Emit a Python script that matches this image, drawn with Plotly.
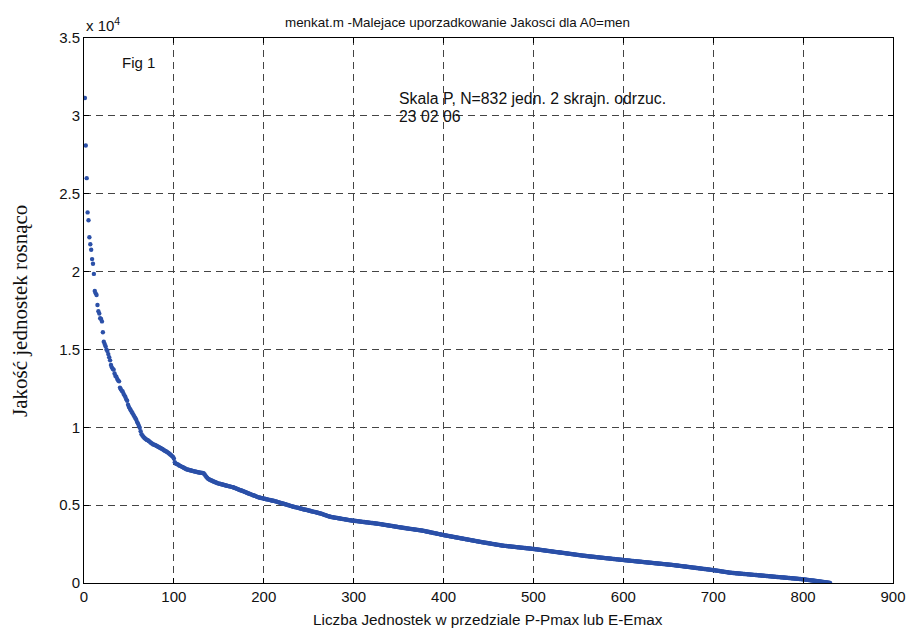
import plotly.graph_objects as go

# Quality values sorted descending (raw units), one per ranked unit
quality = [
    31150, 28100, 26000, 23800, 23300, 22200, 21750, 21400, 20800, 20500,
    19850, 18750, 18600, 18500, 17850, 17450, 17300, 17000, 16950, 16800,
    16100, 15500, 15350, 15200, 15000, 14900, 14700, 14500, 14300, 14000,
    13850, 13750, 13700, 13450, 13300, 13250, 13100, 13000, 12950, 12550,
    12450, 12350, 12300, 12150, 12050, 11950, 11800, 11700, 11450, 11300,
    11200, 11100, 11000, 10900, 10800, 10700, 10600, 10500, 10350, 10250,
    10100, 9970, 9750, 9550, 9470, 9400, 9330, 9280, 9230, 9190,
    9170, 9120, 9080, 9030, 8980, 8940, 8900, 8880, 8860, 8830,
    8800, 8770, 8730, 8700, 8670, 8640, 8610, 8570, 8530, 8490,
    8460, 8430, 8390, 8350, 8300, 8250, 8200, 8150, 8100, 8000,
    7750, 7680, 7650, 7620, 7590, 7550, 7520, 7490, 7460, 7430,
    7400, 7370, 7340, 7300, 7290, 7270, 7260, 7240, 7230, 7210,
    7200, 7180, 7170, 7150, 7140, 7120, 7110, 7100, 7090, 7080,
    7070, 7060, 7050, 6980, 6900, 6830, 6760, 6700, 6660, 6630,
    6600, 6580, 6550, 6520, 6500, 6470, 6450, 6420, 6400, 6385,
    6370, 6355, 6340, 6325, 6310, 6295, 6280, 6265, 6250, 6235,
    6220, 6205, 6190, 6175, 6160, 6150, 6120, 6100, 6080, 6050,
    6030, 6000, 5980, 5960, 5940, 5920, 5900, 5880, 5850, 5830,
    5800, 5780, 5750, 5730, 5710, 5690, 5660, 5640, 5620, 5600,
    5580, 5550, 5530, 5500, 5490, 5475, 5460, 5450, 5435, 5420,
    5410, 5395, 5380, 5370, 5355, 5340, 5330, 5315, 5300, 5290,
    5280, 5260, 5245, 5230, 5210, 5195, 5175, 5160, 5140, 5125,
    5105, 5090, 5075, 5055, 5040, 5020, 5005, 4985, 4970, 4950,
    4935, 4915, 4900, 4885, 4870, 4855, 4840, 4830, 4815, 4800,
    4785, 4770, 4755, 4740, 4725, 4710, 4700, 4685, 4670, 4655,
    4640, 4625, 4610, 4595, 4585, 4570, 4555, 4540, 4525, 4510,
    4495, 4480, 4470, 4450, 4430, 4410, 4390, 4370, 4350, 4330,
    4310, 4290, 4270, 4250, 4240, 4230, 4220, 4210, 4200, 4190,
    4180, 4170, 4160, 4150, 4140, 4130, 4120, 4110, 4100, 4090,
    4080, 4070, 4060, 4050, 4040, 4030, 4020, 4015, 4005, 4000,
    3993, 3986, 3978, 3971, 3964, 3957, 3950, 3942, 3935, 3928,
    3921, 3914, 3906, 3899, 3892, 3885, 3878, 3870, 3863, 3856,
    3849, 3842, 3834, 3827, 3820, 3813, 3806, 3798, 3790, 3780,
    3770, 3761, 3751, 3742, 3732, 3723, 3713, 3704, 3694, 3685,
    3675, 3666, 3656, 3647, 3637, 3628, 3618, 3609, 3599, 3590,
    3580, 3570, 3562, 3553, 3545, 3536, 3528, 3520, 3511, 3503,
    3494, 3486, 3478, 3469, 3461, 3452, 3444, 3436, 3427, 3419,
    3410, 3402, 3394, 3385, 3377, 3368, 3360, 3348, 3336, 3324,
    3311, 3299, 3287, 3275, 3263, 3251, 3238, 3226, 3214, 3202,
    3190, 3178, 3165, 3153, 3141, 3129, 3117, 3104, 3092, 3080,
    3069, 3058, 3048, 3037, 3026, 3015, 3005, 2994, 2983, 2972,
    2962, 2951, 2940, 2930, 2919, 2908, 2897, 2887, 2876, 2865,
    2854, 2844, 2833, 2822, 2811, 2801, 2790, 2779, 2768, 2758,
    2747, 2736, 2726, 2715, 2704, 2693, 2683, 2672, 2661, 2650,
    2640, 2631, 2621, 2612, 2602, 2592, 2583, 2573, 2564, 2554,
    2544, 2535, 2525, 2515, 2506, 2496, 2487, 2477, 2467, 2458,
    2448, 2438, 2429, 2419, 2410, 2400, 2394, 2387, 2381, 2375,
    2368, 2362, 2356, 2350, 2343, 2337, 2331, 2324, 2318, 2312,
    2306, 2299, 2293, 2287, 2280, 2274, 2268, 2262, 2255, 2249,
    2243, 2236, 2230, 2224, 2218, 2211, 2205, 2199, 2192, 2186,
    2180, 2172, 2164, 2157, 2149, 2141, 2133, 2126, 2118, 2110,
    2102, 2095, 2087, 2079, 2071, 2064, 2056, 2048, 2040, 2033,
    2025, 2017, 2009, 2002, 1994, 1986, 1978, 1971, 1963, 1955,
    1947, 1940, 1932, 1924, 1916, 1909, 1901, 1893, 1885, 1878,
    1870, 1862, 1854, 1847, 1839, 1831, 1823, 1816, 1808, 1800,
    1792, 1785, 1777, 1769, 1761, 1754, 1746, 1738, 1730, 1724,
    1718, 1711, 1705, 1699, 1693, 1687, 1681, 1674, 1668, 1662,
    1656, 1650, 1643, 1637, 1631, 1625, 1619, 1613, 1606, 1600,
    1594, 1588, 1582, 1575, 1569, 1563, 1557, 1551, 1545, 1538,
    1532, 1526, 1520, 1514, 1507, 1501, 1495, 1489, 1483, 1476,
    1470, 1464, 1458, 1453, 1447, 1441, 1435, 1429, 1423, 1418,
    1412, 1406, 1400, 1394, 1389, 1383, 1377, 1371, 1365, 1360,
    1354, 1348, 1342, 1336, 1331, 1325, 1319, 1313, 1307, 1302,
    1296, 1290, 1284, 1278, 1273, 1267, 1261, 1255, 1249, 1244,
    1238, 1232, 1226, 1220, 1215, 1209, 1203, 1197, 1191, 1186,
    1180, 1174, 1168, 1162, 1157, 1150, 1143, 1135, 1128, 1121,
    1114, 1106, 1099, 1092, 1085, 1077, 1070, 1063, 1055, 1048,
    1041, 1034, 1026, 1019, 1012, 1005, 997, 990, 983, 975,
    968, 961, 954, 946, 939, 932, 925, 917, 910, 903,
    895, 888, 881, 874, 866, 859, 852, 845, 837, 830,
    821, 812, 803, 794, 785, 776, 767, 758, 749, 741,
    732, 723, 714, 705, 696, 687, 678, 669, 660, 655,
    650, 644, 639, 634, 629, 624, 618, 613, 608, 603,
    598, 593, 587, 582, 577, 572, 567, 561, 556, 551,
    546, 541, 535, 530, 525, 520, 515, 510, 504, 499,
    494, 489, 484, 478, 473, 468, 463, 458, 452, 447,
    442, 437, 432, 427, 421, 416, 411, 406, 401, 395,
    390, 385, 380, 375, 370, 364, 359, 354, 349, 344,
    338, 333, 328, 323, 318, 313, 307, 302, 297, 292,
    287, 281, 276, 271, 266, 261, 255, 250, 245, 240,
    232, 225, 217, 209, 202, 194, 186, 179, 171, 163,
    156, 148, 140, 133, 125, 117, 110, 102, 94, 87,
    79, 71, 64, 56, 48, 41, 33, 25, 18, 10,
]
ranks = list(range(1, len(quality) + 1))

x_ticks = [0, 100, 200, 300, 400, 500, 600, 700, 800, 900]
y_ticks = [0, 5000, 10000, 15000, 20000, 25000, 30000, 35000]
y_tick_labels = ["0", "0.5", "1", "1.5", "2", "2.5", "3", "3.5"]

title_text = "menkat.m -Malejace uporzadkowanie Jakosci dla A0=men"
x_label = "Liczba Jednostek w przedziale P-Pmax lub E-Emax"
y_label = "Jakość jednostek rosnąco"
note1 = "Skala P, N=832 jedn. 2 skrajn. odrzuc."
note2 = "23 02 06"
fig_label = "Fig 1"

W, H = 909, 628
L, R, T, B = 84, 16, 38, 45
pw, ph = W - L - R, H - T - B


def px(x):
    return (x - L) / pw


def py(y):
    return (H - B - y) / ph


sans = "Liberation Sans, Arial, Helvetica, sans-serif"

fig = go.Figure()
fig.add_trace(go.Scatter(
    x=ranks, y=quality, mode="markers",
    marker=dict(color="#2b50a8", size=4.4, line=dict(width=0)),
    showlegend=False, hoverinfo="skip",
))

axis_common = dict(
    showline=True, linecolor="black", linewidth=1, mirror="ticks",
    ticks="inside", ticklen=5, tickcolor="black", tickwidth=1,
    showgrid=True, gridcolor="#444444", gridwidth=1, griddash="7px,5px",
    zeroline=False, automargin=False,
    tickfont=dict(family=sans, size=15, color="#111111"),
)

fig.update_layout(
    template="none",
    width=W, height=H,
    margin=dict(l=L, r=R, t=T, b=B, autoexpand=False),
    paper_bgcolor="white", plot_bgcolor="white",
    xaxis=dict(range=[0, 900], tickvals=x_ticks, **axis_common),
    yaxis=dict(range=[0, 35000], tickvals=y_ticks, ticktext=y_tick_labels, **axis_common),
    font=dict(family=sans, color="#111111"),
)

annotations = [
    dict(text=title_text, x=px(457), y=py(22), font=dict(size=13.4)),
    dict(text=x_label, x=px(488), y=py(619), font=dict(size=15.3)),
    dict(text=y_label, x=px(20), y=py(311), textangle=-90,
         font=dict(size=21, family="Liberation Serif, Times New Roman, serif")),
    dict(text="x 10<sup>4</sup>", x=px(84), y=py(24), xanchor="left", font=dict(size=15)),
    dict(text=fig_label, x=px(120), y=py(63), xanchor="left", font=dict(size=15)),
    dict(text=note1, x=px(397), y=py(99), xanchor="left", font=dict(size=15.8)),
    dict(text=note2, x=px(397), y=py(117), xanchor="left", font=dict(size=15.8)),
]
for a in annotations:
    base = dict(xref="paper", yref="paper", showarrow=False, yanchor="middle")
    base.setdefault("xanchor", "center")
    base.update(a)
    fig.add_annotation(**base)

fig.write_html("out.html")
